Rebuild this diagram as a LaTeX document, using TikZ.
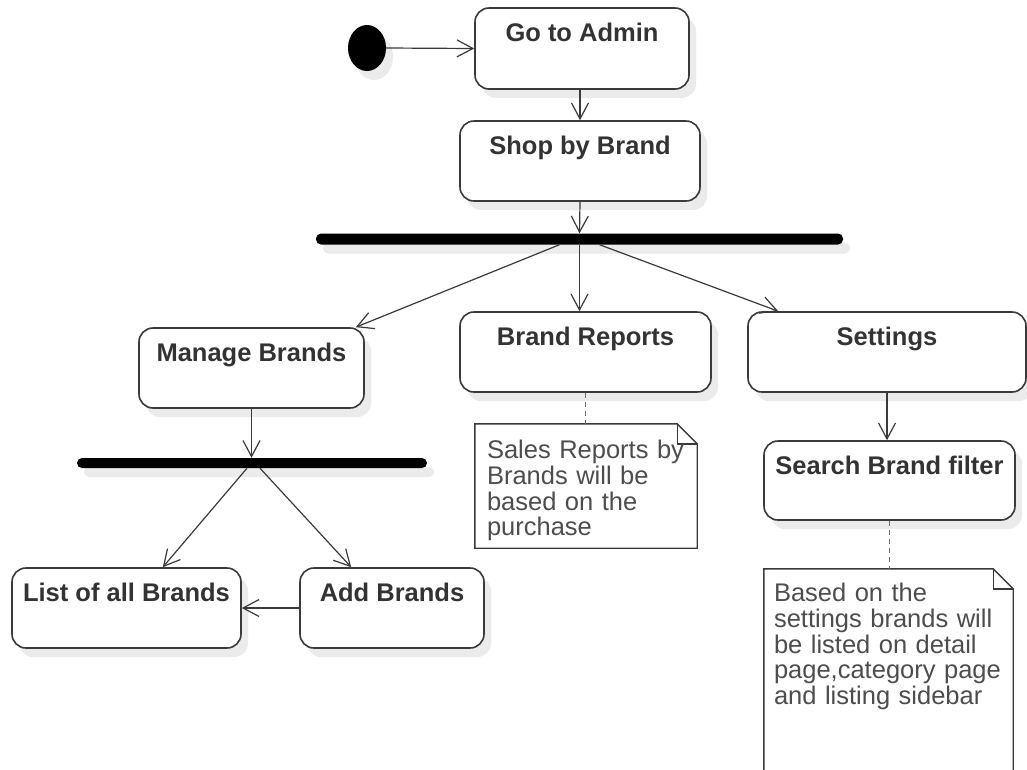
\documentclass[tikz,border=0pt]{standalone}
\usepackage{fontspec}
\setmainfont{Liberation Sans}
\usetikzlibrary{arrows.meta,shapes.geometric,shadows}
\definecolor{linec}{HTML}{3A3A3A}
\definecolor{textc}{HTML}{333333}
\definecolor{notec}{HTML}{4D4D4D}
\definecolor{shadowc}{HTML}{EBEBEB}
\begin{document}
\begin{tikzpicture}[x=1pt,y=-1pt,
  shade off/.style={drop shadow={shadow xshift=7pt, shadow yshift=-9pt, fill=shadowc, opacity=1}},
  act/.style={draw=linec, line width=1.6pt, fill=white, rounded corners=14pt, inner sep=0pt, shade off},
  actlbl/.style={anchor=base, yshift=-34.5pt, inner sep=0pt, text=textc,
    font=\bfseries\fontsize{25.5}{26}\selectfont},
  syncbar/.style={fill=black, rounded corners=5pt, inner sep=0pt, shade off},
  flow/.style={draw=linec, line width=1.2pt, -{Straight Barb[length=16pt,width=17pt]}},
  notelink/.style={draw=linec!75, line width=1.4pt, dash pattern=on 5pt off 4pt},
  notearea/.style={inner sep=0pt},
  noteline/.style={draw=linec, line width=1.4pt, fill=white, line join=miter},
  notetxt/.style={anchor=base west, align=left, inner sep=0pt, text=notec,
    font=\fontsize{25.5}{25.7}\selectfont}]
\useasboundingbox (0,0) rectangle (1027,769);
\clip (0,0) rectangle (1027,769);
\fill[white] (0,0) rectangle (1027,769);

% initial node
\node[ellipse, fill=black, minimum width=38pt, minimum height=46pt, inner sep=0pt, shade off] (start) at (367,48) {};

% actions
\node[act, minimum width=214pt, minimum height=81pt, label={[actlbl]north:Go to Admin}] (admin) at (582,48.5) {};
\node[act, minimum width=240pt, minimum height=80pt, label={[actlbl]north:Shop by Brand}] (shop) at (580,161) {};
\node[syncbar, minimum width=527pt, minimum height=11pt] (bar1) at (579.5,239) {};
\node[act, minimum width=225pt, minimum height=80pt, label={[actlbl]north:Manage Brands}] (mng) at (251.5,368) {};
\node[act, minimum width=251pt, minimum height=80pt, label={[actlbl]north:Brand Reports}] (rep) at (585.5,352) {};
\node[act, minimum width=278pt, minimum height=80pt, label={[actlbl]north:Settings}] (set) at (887,352) {};
\node[syncbar, minimum width=350pt, minimum height=10pt] (bar2) at (252,463) {};
\node[act, minimum width=229pt, minimum height=80pt, label={[actlbl]north:List of all Brands}] (list) at (126.5,608) {};
\node[act, minimum width=184pt, minimum height=80pt, label={[actlbl]north:Add Brands}] (add) at (392,608) {};
\node[act, minimum width=251pt, minimum height=79pt, label={[actlbl]north:Search Brand filter}] (search) at (889.5,480.5) {};

% notes
\node[notearea, minimum width=222pt, minimum height=124pt] (n1) at (586,486) {};
\draw[noteline] (n1.north west) -- ([xshift=-20pt]n1.north east) -- ([yshift=-20pt]n1.north east)
  -- (n1.south east) -- (n1.south west) -- cycle;
\draw[noteline, fill=none] ([xshift=-20pt]n1.north east) -- ([xshift=-20pt,yshift=-20pt]n1.north east)
  -- ([yshift=-20pt]n1.north east);
\node[notetxt, text width=215pt] (n1t) at ([xshift=12pt,yshift=-35pt]n1.north west)
  {Sales Reports by\\Brands will be\\based on the\\purchase};

\node[notearea, minimum width=249pt, minimum height=231pt] (n2) at (888.5,684.5) {};
\draw[noteline] (n2.north west) -- ([xshift=-20pt]n2.north east) -- ([yshift=-20pt]n2.north east)
  -- (n2.south east) -- (n2.south west) -- cycle;
\draw[noteline, fill=none] ([xshift=-20pt]n2.north east) -- ([xshift=-20pt,yshift=-20pt]n2.north east)
  -- ([yshift=-20pt]n2.north east);
\node[notetxt, text width=240pt] (n2t) at ([xshift=10pt,yshift=-33pt]n2.north west)
  {Based on the\\settings brands will\\be listed on detail\\page,category page\\and listing sidebar};

% control flow
\draw[flow] (start.east) -- (admin.west);
\draw[flow] (shop.north |- admin.south) -- (shop.north);
\draw[flow] (shop.south) -- (bar1.north);
\draw[flow] ([xshift=-20pt]bar1.south) -- ([xshift=-9pt]mng.north east);
\draw[flow] (bar1.south) -- (bar1.south |- rep.north);
\draw[flow] ([xshift=20pt]bar1.south) -- ([xshift=31pt]set.north west);
\draw[flow] (mng.south) -- (mng.south |- bar2.north);
\draw[flow] ([xshift=-5pt]bar2.south) -- ([xshift=-79pt]list.north east);
\draw[flow] ([xshift=8pt]bar2.south) -- ([xshift=52pt]add.north west);
\draw[flow] (add.west) -- (list.east);
\draw[flow] (set.south) -- (set.south |- search.north);

% note anchors
\draw[notelink] (rep.south) -- (rep.south |- n1.north);
\draw[notelink] (search.south) -- (search.south |- n2.north);
\end{tikzpicture}
\end{document}
